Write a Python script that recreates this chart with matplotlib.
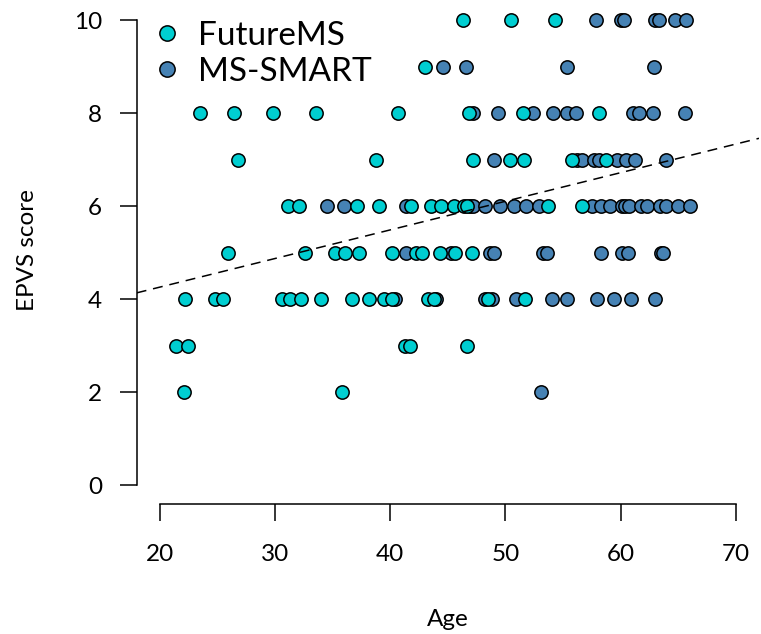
import matplotlib
matplotlib.use("Agg")
import matplotlib.pyplot as plt
from matplotlib.lines import Line2D

plt.rcParams['font.family'] = ['Lato', 'DejaVu Sans']

# ---- data ----
future_age = [46.3, 50.5, 54.3,
              43.0,
              23.5, 26.4, 29.8, 33.6, 40.7, 46.8, 51.5, 58.1,
              26.8, 38.8, 47.2, 50.4, 51.6, 55.8, 58.7,
              31.1, 32.1, 37.1, 39.0, 41.8, 43.5, 44.4, 45.5, 46.4, 46.7, 53.7, 56.6,
              25.9, 32.6, 35.2, 36.1, 37.3, 40.15, 42.2, 42.8, 44.3, 45.65, 47.1,
              22.2, 24.8, 25.5, 30.6, 31.3, 32.3, 34.0, 36.7, 38.2, 39.5, 40.15, 43.3, 43.8, 48.5, 51.7,
              21.45, 22.45, 41.3, 41.7, 46.7,
              22.1, 35.8]
future_epvs = [10, 10, 10,
               9,
               8, 8, 8, 8, 8, 8, 8, 8,
               7, 7, 7, 7, 7, 7, 7,
               6, 6, 6, 6, 6, 6, 6, 6, 6, 6, 6, 6,
               5, 5, 5, 5, 5, 5, 5, 5, 5, 5, 5,
               4, 4, 4, 4, 4, 4, 4, 4, 4, 4, 4, 4, 4, 4, 4,
               3, 3, 3, 3, 3,
               2, 2]

smart_age = [57.85, 60.0, 60.25, 63.0, 63.35, 64.7, 65.7,
             44.6, 46.6, 55.35, 62.85,
             47.2, 49.35, 52.4, 54.1, 55.3, 56.1, 61.1, 61.55, 62.8, 65.6,
             49.0, 56.2, 56.6, 57.7, 58.1, 59.7, 60.5, 61.2, 63.9,
             34.5, 36.0, 41.4, 46.9, 47.2, 48.2, 49.5, 50.7, 51.8, 52.9, 57.5, 58.3,
             59.1, 60.1, 60.4, 60.7, 61.8, 62.3, 63.4, 63.9, 65.0, 66.0,
             41.4, 45.3, 48.7, 49.0, 53.3, 53.6, 58.3, 60.1, 60.6, 63.5, 63.7,
             40.4, 44.0, 48.25, 48.8, 50.9, 54.0, 55.3, 57.9, 59.4, 60.9, 63.0,
             53.1]
smart_epvs = [10, 10, 10, 10, 10, 10, 10,
              9, 9, 9, 9,
              8, 8, 8, 8, 8, 8, 8, 8, 8, 8,
              7, 7, 7, 7, 7, 7, 7, 7, 7,
              6, 6, 6, 6, 6, 6, 6, 6, 6, 6, 6, 6,
              6, 6, 6, 6, 6, 6, 6, 6, 6, 6,
              5, 5, 5, 5, 5, 5, 5, 5, 5, 5, 5,
              4, 4, 4, 4, 4, 4, 4, 4, 4, 4, 4,
              2]

fit_intercept = 3.03
fit_slope = 0.0615

series_labels = ["FutureMS", "MS-SMART"]
x_ticks = [20, 30, 40, 50, 60, 70]
y_ticks = [0, 2, 4, 6, 8, 10]

col_future = "#00CED1"
col_smart = "#4682B4"

# ---- figure ----
W, H = 761, 634
fig = plt.figure(figsize=(W / 100, H / 100), dpi=100)
left, right, top, bottom = 136.7, 759.0, 1.4, 504.0
ax = fig.add_axes([left / W, 1 - bottom / H, (right - left) / W, (bottom - top) / H])
ax.set_xlim(18, 72)
ax.set_ylim(-0.4, 10.4)

ms = 92
ax.scatter(smart_age, smart_epvs, s=ms, c=col_smart, edgecolors="black", linewidths=1.1, zorder=3)
ax.scatter(future_age, future_epvs, s=ms, c=col_future, edgecolors="black", linewidths=1.1, zorder=3)

ax.axline((0, fit_intercept), slope=fit_slope, color="black", lw=1.1,
          dashes=(6.5, 4.5), zorder=4)

for s in ["top", "right"]:
    ax.spines[s].set_visible(False)
ax.spines["left"].set_bounds(0, 10)
ax.spines["bottom"].set_bounds(20, 70)
for s in ["left", "bottom"]:
    ax.spines[s].set_linewidth(1.1)

ax.set_xticks(x_ticks)
ax.set_yticks(y_ticks)
ax.set_yticklabels([str(v) for v in y_ticks], rotation=0)
ax.tick_params(axis="both", length=12, width=1.1, labelsize=17.5, color="black")
ax.tick_params(axis="x", pad=17)
ax.tick_params(axis="y", pad=13)

fig.text(448 / W, 1 - 619 / H, "Age", ha="center", va="center", fontsize=17.5)
fig.text(27 / W, 1 - 250 / H, "EPVS score", ha="center", va="center", rotation=90, fontsize=17.5)

handles = [Line2D([], [], ls="none", marker="o", markersize=11, markerfacecolor=c,
                  markeredgecolor="black", markeredgewidth=1.1) for c in (col_future, col_smart)]
fig.legend(handles, series_labels, loc="upper left", bbox_to_anchor=(153 / W, 1 - 21 / H),
           frameon=False, fontsize=24, handlelength=0.85, handletextpad=0.5,
           labelspacing=0.18, borderpad=0, borderaxespad=0)

fig.savefig("out.png", dpi=100)
